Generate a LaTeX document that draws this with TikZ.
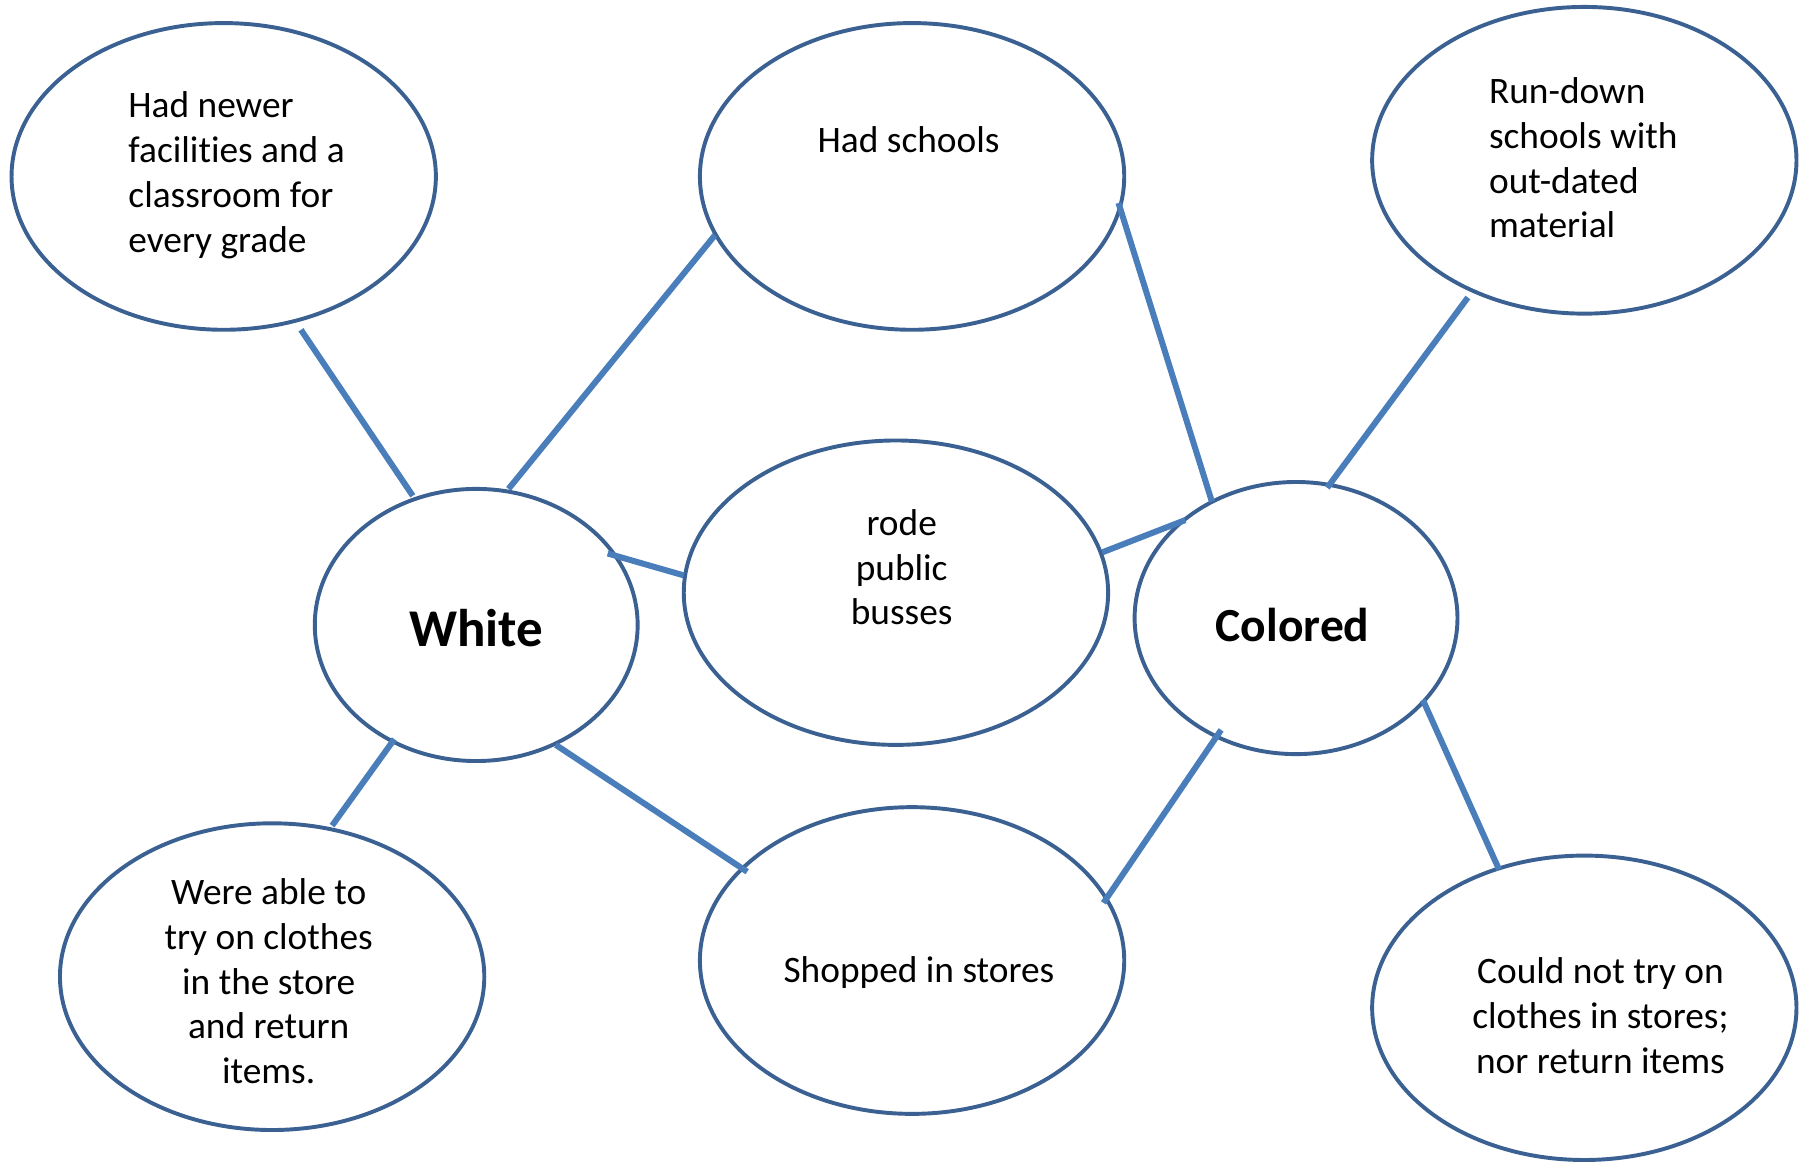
\documentclass[tikz,border=0pt]{standalone}
\usepackage{fontspec}
\setmainfont[Ligatures=NoCommon]{Carlito}
\usetikzlibrary{shapes.geometric,calc}
\definecolor{rim}{HTML}{3A6192}
\definecolor{link}{HTML}{4A7EBB}
\begin{document}
\begin{tikzpicture}[x=0.5pt,y=-0.5pt,
  oval/.style={ellipse,draw=rim,line width=1.7pt,inner sep=0pt,minimum width=184pt,minimum height=133pt},
  hub/.style={ellipse,draw=rim,line width=1.7pt,inner sep=0pt,minimum width=140pt,minimum height=118pt},
  txt/.style={font=\fontsize{16.2}{19.4}\selectfont,inner sep=0pt},
  big/.style={font=\fontsize{23}{28}\selectfont\bfseries,inner sep=0pt},
  conn/.style={draw=link,line width=2.6pt}]
\useasboundingbox (0,0) rectangle (1568,1008);
\node[oval] (a) at (194,153) {};
\node[oval] (s) at (791,153) {};
\node[oval] (r) at (1374,139) {};
\node[hub]  (w) at (413,542) {};
\node[oval,minimum height=132pt] (b) at (777,514) {};
\node[hub]  (c) at (1124,536) {};
\node[oval] (e) at (236,847) {};
\node[oval] (p) at (791,833) {};
\node[oval,minimum height=132pt] (n) at (1374,874) {};

\node[txt,align=left,anchor=west] (at) at (111,152) {Had newer\\facilities and a\\classroom for\\every grade};
\node[txt] (st) at (788,121) {Had schools};
\node[txt,align=left,anchor=west] (rt) at (1291,137) {Run-down\\schools with\\out-dated\\material};
\node[big] (wt) at (413,545) {White};
\node[big,font=\fontsize{20.6}{25}\selectfont\bfseries] (ct) at (1121,542) {Colored};
\node[txt,align=center] (bt) at (782,492) {rode\\public\\busses};
\node[txt,align=center] (et) at (233,851) {Were able to\\try on clothes\\in the store\\and return\\items.};
\node[txt] (pt) at (797,843) {Shopped in stores};
\node[txt,align=center] (nt) at (1388,881) {Could not try on\\clothes in stores;\\nor return items};

\draw[conn] ($(a)+(67,133)$) -- ($(w)+(-55,-112)$);
\draw[conn] ($(s)+(-171,51)$) -- ($(w)+(28,-118)$);
\draw[conn] ($(s)+(179,23)$) -- ($(c)+(-73,-101)$);
\draw[conn] ($(r)+(-101,119)$) -- ($(c)+(27,-113)$);
\draw[conn] ($(w)+(114,-62)$) -- ($(b)+(-184,-15)$);
\draw[conn] ($(b)+(179,-35)$) -- ($(c)+(-96,-85)$);
\draw[conn] ($(w)+(-71,99)$) -- ($(e)+(52,-131)$);
\draw[conn] ($(w)+(69,104)$) -- ($(p)+(-143,-77)$);
\draw[conn] ($(c)+(-65,97)$) -- ($(p)+(166,-50)$);
\draw[conn] ($(c)+(110,71)$) -- ($(n)+(-74,-120)$);
\end{tikzpicture}
\end{document}
